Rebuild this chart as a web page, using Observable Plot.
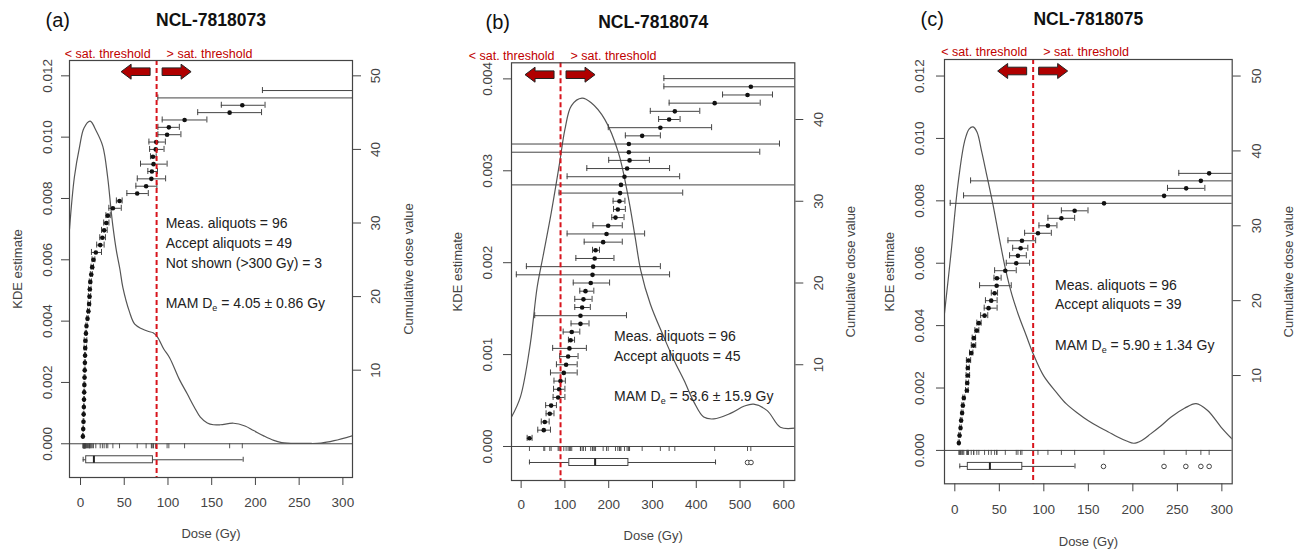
<!DOCTYPE html>
<html><head><meta charset="utf-8">
<script src="https://cdn.jsdelivr.net/npm/d3@7"></script>
<script src="https://cdn.jsdelivr.net/npm/@observablehq/plot@0.6"></script>
<style>
body{margin:0;background:#fff;}
#wrap{position:relative;width:1303px;height:549px;overflow:hidden;background:#fff;}
.panel{position:absolute;top:0;}
.note{position:absolute;font-family:"Liberation Sans",Arial,sans-serif;font-size:14px;line-height:20px;color:#222;white-space:nowrap;}
.note sub{font-size:9px;vertical-align:-3px;line-height:0;}
</style></head><body><div id="wrap"></div>
<script>
// ---------- Panel (a) NCL-7818073 ----------
const deA = [2.7,3.1,3.4,3.6,3.8,4.0,4.2,4.4,4.6,4.8,5.0,5.2,5.4,5.6,6.2,6.8,8.0,9.0,9.8,10.3,10.6,11.2,12.3,13.4,14.8,17.5,22.5,25.0,27.0,29.5,31.2,37.0,44.6,64.8,75.0,81.0,81.6,83.5,82.8,86.0,86.6,99.0,101.0,119.0,170.5,185.0,350,420,520];
const loA = [2.3,2.7,3.0,3.2,3.4,3.6,3.7,3.9,4.1,4.3,4.4,4.6,4.1,4.2,5.5,6.0,7.2,8.0,8.5,9.0,9.3,10.0,11.2,12.0,13.2,12.5,18.5,22.0,24.0,26.5,29.0,32.4,41.0,53.0,63.3,64.9,77.0,68.6,80.0,79.0,78.2,88.5,88.5,93.4,134.0,161.0,88.4,208,330];
const hiA = [3.1,3.5,3.8,4.0,4.3,4.5,4.7,4.9,5.1,5.4,5.6,5.8,6.9,7.2,6.9,7.6,8.8,10.0,11.5,11.6,12.0,12.4,13.4,14.8,16.4,24.0,27.0,28.5,30.5,32.5,34.0,46.6,47.6,77.5,87.3,97.3,88.0,99.0,86.5,95.5,97.0,114.8,113.0,144.5,207.0,211.0,612,632,710];
const kdeDoseA = [-12.6,-7,-1,4,11,18,25.5,31,35,37,41,45,48.4,56,62,70,78,83,88,95,102,113,122,130,137,145,152,160,175,188,198,210,221,230,237,260,275,290,311.5];
const kdeDensA = [0.0070,0.0087,0.0097,0.0103,0.01052,0.0102,0.0097,0.0087,0.0076,0.0071,0.0063,0.0057,0.0051,0.0043,0.0039,0.00375,0.00366,0.00362,0.00348,0.0031,0.0028,0.0021,0.00163,0.0012,0.00087,0.00068,0.00062,0.00062,0.00067,0.00058,0.00043,0.00025,0.00011,0.00004,0.00002,0.00001,0.00002,0.0001,0.00027];
const boxA = [3, 6.5, 15.3, 82.8, 186];   // min, q1, median, q3, max
const outA = [];
const thrA = 87;
const kdeTicksA = [0,0.002,0.004,0.006,0.008,0.010,0.012];
const cumTicksA = [10,20,30,40,50];
const doseTicksA = [0,50,100,150,200,250,300];
const notesA = ["Meas. aliquots = 96","Accept aliquots = 49","Not shown (>300 Gy) = 3"];
const mamA = ["4.05","0.86"];

// ---------- Panel (b) NCL-7818074 ----------
const deB = [19,51.7,54,65.4,68.5,84.5,86.8,89.8,97.4,102.7,107.3,110.3,113,115.6,135.5,135.5,139.3,142.3,147,159,163,164.5,168,170,187.3,195,198.8,215.5,220.8,224.6,226,228,236,242,247.6,246,246,276.4,318,338,351,442,517,524.6,700];
const loB = [13.7,38,46,57,56,73,74,75,67,80.6,88,72,108,96,114,31,122.5,122.5,134,119,-11,12,125,163,144,105,164,207,211,210,86.6,-200,105,150,200,-100,-100,238,199,314,295,338,460,326,326];
const hiB = [25,67,64,75,80.6,100,100,101,128,128,130,149,122,134,155,240.6,158,162,166,202,339,318,212,179,231,282,231,235,238,237,369,700,362,339,293,545,590,318,435,363,408,546,574,720,1000];
const kdeDoseB = [-22,-1.6,21,36.5,50,69,88,100,115,139,160,191,222,244,260,273,295,326,350,372,395,417,440,478,510,531,562,592,625];
const kdeDensB = [0.00032,0.00054,0.00112,0.00173,0.00207,0.00255,0.00309,0.00345,0.00371,0.00379,0.00374,0.00356,0.0032,0.00273,0.00229,0.00192,0.00155,0.00119,0.00093,0.00072,0.00048,0.00032,0.0003,0.00036,0.00044,0.00046,0.00039,0.00021,0.0002];
const boxB = [19, 110, 169, 245, 444];
const outB = [517, 525];
const thrB = 90;
const kdeTicksB = [0,0.001,0.002,0.003,0.004];
const cumTicksB = [10,20,30,40];
const doseTicksB = [0,100,200,300,400,500,600];
const notesB = ["Meas. aliquots = 96","Accept aliquots = 45"];
const mamB = ["53.6","15.9"];

// ---------- Panel (c) NCL-7818075 ----------
const deC = [4.5,5.3,6.4,7.1,8.2,9.0,10.1,13.5,13.9,14.6,14.6,15.4,18.4,21.0,21.4,24.7,27.0,33.4,37.9,40.9,44.7,47.0,47.3,56.7,69.0,70.9,73.9,75.4,93.4,104.6,119.7,134.6,167.6,235.1,259.9,276.4,285.7,380,450];
const loC = [3.8,4.5,5.5,6.2,7.2,8.0,9.0,12.0,12.5,12.6,13.0,13.0,16.5,18.5,19.5,22.5,24.7,29.0,33.0,34.4,41.0,27.8,44.0,44.7,57.8,61.5,65.0,59.7,78.4,94.5,104.6,119.7,-5.2,9.8,238.9,17.7,251.6,330,400];
const hiC = [5.2,6.1,7.3,8.0,9.2,10.0,11.2,15.0,15.5,16.6,16.2,17.8,20.3,23.5,23.3,27.0,29.6,37.0,47.5,47.5,48.0,63.4,52.0,69.0,84.0,80.3,82.0,90.8,108.4,114.7,134.6,149.6,400,460,280.9,535,320,430,500];
const kdeDoseC = [-11.6,-4,3.4,10.9,16,20.5,25,30,35.3,42.7,50,57,64,72,80,88,100,115,125,137.7,150,160,172,183,193,201,210,220,232,243,258,271,284,299,311.3];
const kdeDensC = [0.0044,0.0064,0.0085,0.0099,0.0103,0.01037,0.0102,0.0096,0.0089,0.0079,0.0068,0.0058,0.0050,0.0043,0.0037,0.0031,0.00238,0.00183,0.0015,0.0012,0.00095,0.00078,0.0006,0.00043,0.0003,0.00023,0.00032,0.00053,0.0008,0.00107,0.00135,0.0015,0.00128,0.00075,0.00037];
const boxC = [5.6, 14.6, 39.4, 75.8, 135];
const outC = [167, 235, 259.5, 276.4, 285.7];
const thrC = 88;
const kdeTicksC = [0,0.002,0.004,0.006,0.008,0.010,0.012];
const cumTicksC = [10,20,30,40,50];
const doseTicksC = [0,50,100,150,200,250,300];
const notesC = ["Meas. aliquots = 96","Accept aliquots = 39"];
const mamC = ["5.90","1.34"];

// ---------- layout (pixels / styling) ----------
const FONT = "Liberation Sans, Arial, sans-serif";
const AX = "#444";
const panels = [
  {tag:"(a)", name:"NCL-7818073", de:deA, lo:loA, hi:hiA, kx:kdeDoseA, ky:kdeDensA, box:boxA, out:outA, thr:thrA,
   yt:kdeTicksA, ct:cumTicksA, xt:doseTicksA, dec:3, notes:notesA, mam:mamA,
   left:0, w:430, ml:69, mr:78, mt:60, mb:72, xd:[-12.6,311], yd:[-0.0011,0.0125], cum:0.00024,
   lblL:-21.5, lblR:23.5, lblX:12, ttlL:-52, ttlR:56, ttlX:56, tagDx:-24, titleDy:-40, satDy:-11, arrDy:11.7,
   noteX:165.7, noteY:[222.7,243,263], mamY:303},
  {tag:"(b)", name:"NCL-7818074", de:deB, lo:loB, hi:hiB, kx:kdeDoseB, ky:kdeDensB, box:boxB, out:outB, thr:thrB,
   yt:kdeTicksB, ct:cumTicksB, xt:doseTicksB, dec:3, notes:notesB, mam:mamB,
   left:430, w:440, ml:81, mr:75.7, mt:62.3, mb:69, xd:[-22,625], yd:[-0.00037,0.004175], cum:0.00008895,
   lblL:-24.3, lblR:24, lblX:11, ttlL:-54, ttlR:56, ttlX:55, tagDx:-26, titleDy:-40.6, satDy:-11.6, arrDy:12.4,
   noteX:614, noteY:[335.7,355.7], mamY:395.7},
  {tag:"(c)", name:"NCL-7818075", de:deC, lo:loC, hi:hiC, kx:kdeDoseC, ky:kdeDensC, box:boxC, out:outC, thr:thrC,
   yt:kdeTicksC, ct:cumTicksC, xt:doseTicksC, dec:3, notes:notesC, mam:mamC,
   left:870, w:433, ml:74, mr:71.3, mt:59, mb:65.7, xd:[-11.6,311.6], yd:[-0.00107,0.01253], cum:0.00024,
   lblL:-25, lblR:24, lblX:13, ttlL:-55, ttlR:57, ttlX:58.4, tagDx:-24, titleDy:-40, satDy:-12.3, arrDy:12,
   noteX:1055, noteY:[285,304.3], mamY:345}
];

function arrowMark(thr, dyTop) {
  return (index, scales, values, dims) => {
    const x0 = scales.x(thr);
    const cy = dims.marginTop + dyTop;
    const g = d3.create("svg:g");
    const L = [[x0-35,cy],[x0-25,cy-7.5],[x0-25,cy-3.8],[x0-6,cy-3.8],[x0-6,cy+3.8],[x0-25,cy+3.8],[x0-25,cy+7.5]];
    const R = L.map(([x,y]) => [2*x0 - x, y]);
    for (const P of [L,R]) {
      g.append("polygon").attr("points", P.map(p=>p.join(",")).join(" "))
        .attr("fill","#b00000").attr("stroke","#222").attr("stroke-width",1);
    }
    return g.node();
  };
}

const wrap = document.getElementById("wrap");
for (const p of panels) {
  const rows = p.de.map((d,i) => ({de:d, lo:p.lo[i], hi:p.hi[i], y:(i+1)*p.cum}));
  const kde = p.kx.map((x,i) => ({x, y:p.ky[i]}));
  const box = [{min:p.box[0], q1:p.box[1], med:p.box[2], q3:p.box[3], max:p.box[4]}];
  const BOXDY = 16;
  const chart = Plot.plot({
    width: p.w, height: 549,
    marginLeft: p.ml, marginRight: p.mr, marginTop: p.mt, marginBottom: p.mb,
    x: {domain: p.xd},
    y: {domain: p.yd},
    style: {fontFamily: FONT, background: "white", overflow: "visible"},
    marks: [
      Plot.ruleY([0], {stroke: AX, strokeWidth: 1}),
      Plot.line(kde, {x:"x", y:"y", stroke:"#555", strokeWidth:1.2, curve:"catmull-rom", clip:true}),
      // rug
      Plot.ruleX(p.de, {x: d=>d, y1: ()=>0, y2: ()=>0, insetTop: 0, insetBottom: -5, stroke: AX, strokeWidth: 0.9, clip:true}),
      // boxplot
      Plot.ruleY(box, {x1:"min", x2:"q1", y: ()=>0, dy: BOXDY, stroke: AX}),
      Plot.ruleY(box, {x1:"q3", x2:"max", y: ()=>0, dy: BOXDY, stroke: AX}),
      Plot.ruleX(box, {x:"min", y1: ()=>0, y2: ()=>0, insetTop:-2.5, insetBottom:-2.5, dy: BOXDY, stroke: AX}),
      Plot.ruleX(box, {x:"max", y1: ()=>0, y2: ()=>0, insetTop:-2.5, insetBottom:-2.5, dy: BOXDY, stroke: AX}),
      Plot.rect(box, {x1:"q1", x2:"q3", y1: ()=>0, y2: ()=>0, insetTop:-3.5, insetBottom:-3.5, dy: BOXDY, fill:"white", stroke: AX}),
      Plot.ruleX(box, {x:"med", y1: ()=>0, y2: ()=>0, insetTop:-3.5, insetBottom:-3.5, dy: BOXDY, stroke: "#222", strokeWidth: 2}),
      Plot.dot(p.out, {x: d=>d, y: ()=>0, dy: BOXDY, r: 2.3, stroke: AX, fill: "white", strokeWidth: 1}),
      // cumulative dose values with error bars
      Plot.ruleY(rows, {x1:"lo", x2:"hi", y:"y", stroke: AX, strokeWidth: 1, clip:true}),
      Plot.ruleX(rows, {x:"lo", y1:"y", y2:"y", insetTop:-3, insetBottom:-3, stroke: AX, clip:true}),
      Plot.ruleX(rows, {x:"hi", y1:"y", y2:"y", insetTop:-3, insetBottom:-3, stroke: AX, clip:true}),
      Plot.dot(rows, {x:"de", y:"y", r: 2.3, fill:"#111", stroke:"none", clip:true}),
      // threshold
      Plot.ruleX([p.thr], {stroke:"#d8141c", strokeWidth: 2, strokeDasharray: "5,3"}),
      arrowMark(p.thr, p.arrDy),
      Plot.text([p.thr], {x: d=>d, frameAnchor:"top", dy: p.satDy, dx: -6, textAnchor:"end", text: ()=>"< sat. threshold", fill:"#c00000", fontSize: 12.5}),
      Plot.text([p.thr], {x: d=>d, frameAnchor:"top", dy: p.satDy, dx: 10, textAnchor:"start", text: ()=>"> sat. threshold", fill:"#c00000", fontSize: 12.5}),
      Plot.frame({stroke: AX, strokeWidth: 1.2}),
      // axes
      Plot.axisX(p.xt, {anchor:"bottom", tickSize: 8, tickPadding: p.lblX, fontSize: 13.5, stroke: AX, fill: AX, label: null}),
      Plot.axisY(p.yt, {anchor:"left", tickSize: 8, tickFormat: () => "", stroke: AX, label: null}),
      Plot.text(p.yt, {y: d=>d, frameAnchor:"left", dx: p.lblL, rotate: -90, text: d=>d.toFixed(p.dec), textAnchor:"middle", lineAnchor:"middle", fontSize: 13.5, fill: AX}),
      Plot.axisY(p.ct.map(c=>c*p.cum), {anchor:"right", tickSize: 8, tickFormat: () => "", stroke: AX, label: null}),
      Plot.text(p.ct, {y: c=>c*p.cum, frameAnchor:"right", dx: p.lblR, rotate: -90, text: c=>String(c), textAnchor:"middle", lineAnchor:"middle", fontSize: 13.5, fill: AX}),
      // titles
      Plot.text([p.name], {frameAnchor:"top", dy: p.titleDy, text: d=>d, fontSize: 17.5, fontWeight:"bold", fill:"#111", lineAnchor:"middle"}),
      Plot.text([p.tag], {frameAnchor:"top-left", dx: p.tagDx, dy: p.titleDy, text: d=>d, textAnchor:"start", fontSize: 20, fill:"#111", lineAnchor:"middle"}),
      Plot.text(["KDE estimate"], {frameAnchor:"left", dx: p.ttlL, rotate: -90, text: d=>d, textAnchor:"middle", lineAnchor:"middle", fontSize: 13, fill: AX}),
      Plot.text(["Cumulative dose value"], {frameAnchor:"right", dx: p.ttlR, rotate: -90, text: d=>d, textAnchor:"middle", lineAnchor:"middle", fontSize: 13, fill: AX}),
      Plot.text(["Dose (Gy)"], {frameAnchor:"bottom", dy: p.ttlX, text: d=>d, lineAnchor:"middle", fontSize: 13, fill: AX})
    ]
  });
  chart.classList.add("panel");
  chart.style.left = p.left + "px";
  wrap.appendChild(chart);
  p.notes.forEach((t,i) => {
    const d = document.createElement("div");
    d.className = "note";
    d.style.left = p.noteX + "px";
    d.style.top = (p.noteY[i] - 10) + "px";
    d.textContent = t;
    wrap.appendChild(d);
  });
  const m = document.createElement("div");
  m.className = "note";
  m.style.left = p.noteX + "px";
  m.style.top = (p.mamY - 10) + "px";
  m.innerHTML = "MAM D<sub>e</sub> = " + p.mam[0] + " ± " + p.mam[1] + " Gy";
  wrap.appendChild(m);
}
</script></body></html>
